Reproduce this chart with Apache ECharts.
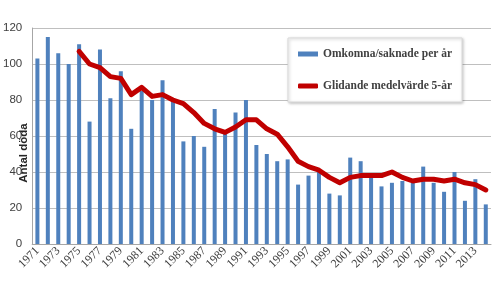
<!DOCTYPE html>
<html>
<head>
<meta charset="utf-8">
<script src="https://cdn.jsdelivr.net/npm/echarts@6/dist/echarts.min.js"></script>
<style>
  html, body { margin: 0; padding: 0; background: #fff; }
  #chart { width: 499px; height: 286px; }
</style>
</head>
<body>
<div id="chart"></div>
<script>
// år 1971-2014
var years = ['1971','1972','1973','1974','1975','1976','1977','1978','1979','1980',
  '1981','1982','1983','1984','1985','1986','1987','1988','1989','1990',
  '1991','1992','1993','1994','1995','1996','1997','1998','1999','2000',
  '2001','2002','2003','2004','2005','2006','2007','2008','2009','2010',
  '2011','2012','2013','2014']

// omkomna/saknade per år
var perYear = [103,115,106,100,111,68,108,81,96,64,
  85,80,91,80,57,60,54,75,63,73,
  80,55,50,46,47,33,38,40,28,27,
  48,46,38,32,34,35,34,43,34,29,
  40,24,36,22]

// glidande medelvärde 5 år, börjar 1975
var movingAvg = [null,null,null,null,107,100,98,93,92,83,
  87,82,83,80,78,73,67,64,62,65,
  69,69,64,61,54,46,43,41,37,34,
  37,38,38,38,40,37,35,36,36,35,
  36,34,33,30]

var yTicks = { min: 0, max: 120, interval: 20 }

var barName = 'Omkomna/saknade per år'
var lineName = 'Glidande medelvärde 5-år'

var chart = echarts.init(document.getElementById('chart'))
chart.setOption({
  animation: false,
  grid: { left: 32, right: 8, top: 28, bottom: 42 },
  legend: {
    orient: 'vertical',
    left: 288,
    top: 38,
    padding: [10, 10, 10, 10],
    itemGap: 20,
    itemWidth: 20,
    itemHeight: 5,
    backgroundColor: '#fff',
    borderColor: '#d9d9d9',
    borderWidth: 1,
    shadowBlur: 3,
    shadowColor: 'rgba(0,0,0,0.25)',
    shadowOffsetX: 1,
    shadowOffsetY: 1,
    textStyle: { fontFamily: 'Liberation Serif', fontWeight: 'bold', fontSize: 11.5, color: '#404040' },
    data: [
      { name: barName, icon: 'rect' },
      { name: lineName, icon: 'roundRect' }
    ]
  },
  xAxis: {
    type: 'category',
    data: years,
    axisLine: { lineStyle: { color: '#a6a6a6' } },
    axisTick: { show: false },
    axisLabel: {
      interval: 1,
      rotate: 45,
      margin: 5,
      fontFamily: 'Liberation Serif',
      fontSize: 12,
      color: '#404040'
    }
  },
  yAxis: {
    type: 'value',
    min: yTicks.min,
    max: yTicks.max,
    interval: yTicks.interval,
    axisLine: { show: true, lineStyle: { color: '#a6a6a6' } },
    axisLabel: { margin: 10, fontFamily: 'Liberation Sans', fontSize: 11.5, color: '#404040' },
    splitLine: { lineStyle: { color: '#bfbfbf' } }
  },
  graphic: [{
    type: 'text',
    x: 24,
    y: 153,
    rotation: Math.PI / 2,
    style: {
      text: 'Antal döda',
      fontFamily: 'Liberation Sans',
      fontWeight: 'bold',
      fontSize: 11.5,
      fill: '#262626',
      align: 'center',
      verticalAlign: 'middle'
    }
  }],
  series: [
    {
      name: barName,
      type: 'bar',
      data: perYear,
      barWidth: 4,
      itemStyle: { color: '#4f81bd' }
    },
    {
      name: lineName,
      type: 'line',
      data: movingAvg,
      symbol: 'none',
      z: 3,
      lineStyle: { color: '#c00000', width: 5, join: 'round', cap: 'round' },
      itemStyle: { color: '#c00000' }
    }
  ]
})
</script>
</body>
</html>
